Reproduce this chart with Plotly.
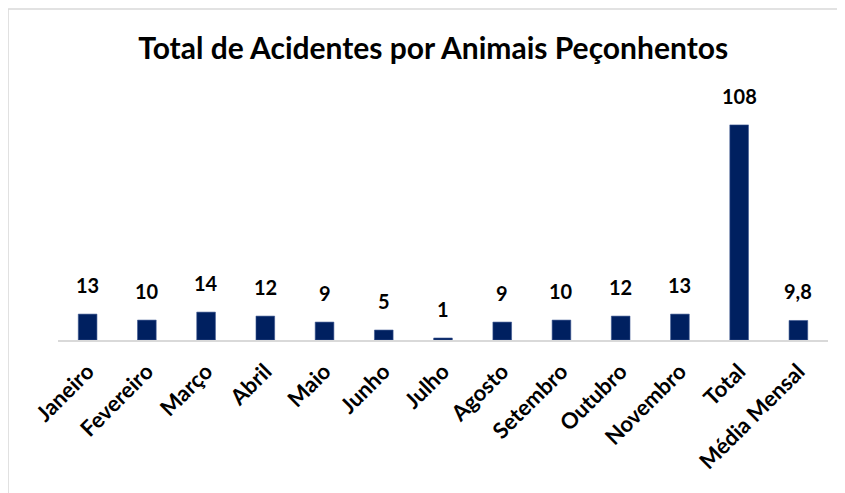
import plotly.graph_objects as go

categories = ["Janeiro", "Fevereiro", "Março", "Abril", "Maio", "Junho", "Julho",
              "Agosto", "Setembro", "Outubro", "Novembro", "Total", "Média Mensal"]
values = [13, 10, 14, 12, 9, 5, 1, 9, 10, 12, 13, 108, 9.8]
labels = ["13", "10", "14", "12", "9", "5", "1", "9", "10", "12", "13", "108", "9,8"]

FONT = "Lato"
fig = go.Figure()
fig.add_trace(go.Bar(
    x=categories, y=values,
    marker=dict(color="#002060", line=dict(color="#3a5590", width=0.6)),
    hoverinfo="skip",
))

for c, v, t in zip(categories, values, labels):
    fig.add_annotation(x=c, y=v, text=f"<b>{t}</b>", showarrow=False,
                       yanchor="bottom", yshift=15,
                       font=dict(family=FONT, size=20, color="#000000"))

# chart border (top and left edges visible)
fig.add_shape(type="line", xref="paper", yref="paper",
              x0=-0.0649, x1=1.2, y0=1.385, y1=1.385,
              line=dict(color="#d9d9d9", width=1.5), layer="below")
fig.add_shape(type="line", xref="paper", yref="paper",
              x0=-0.0649, x1=-0.0649, y0=-0.8, y1=1.385,
              line=dict(color="#d9d9d9", width=1.5), layer="below")

fig.update_layout(
    width=837, height=485,
    margin=dict(l=50, r=17, t=93, b=153),
    paper_bgcolor="white", plot_bgcolor="white",
    bargap=0.685,
    showlegend=False,
    title=dict(text="<b>Total de Acidentes por Animais Peçonhentos</b>",
               x=0.508, xanchor="center", y=1 - 40 / 485, yanchor="middle",
               font=dict(family=FONT, size=30, color="#000000")),
    xaxis=dict(showline=True, linecolor="#d9d9d9", linewidth=2,
               tickangle=-45, ticks="", showgrid=False, ticklabelstandoff=8,
               tickfont=dict(family=FONT, size=22, color="#000000", weight="bold")),
    yaxis=dict(range=[0, 120], visible=False, showgrid=False, zeroline=False),
)

fig.write_html("out.html")
